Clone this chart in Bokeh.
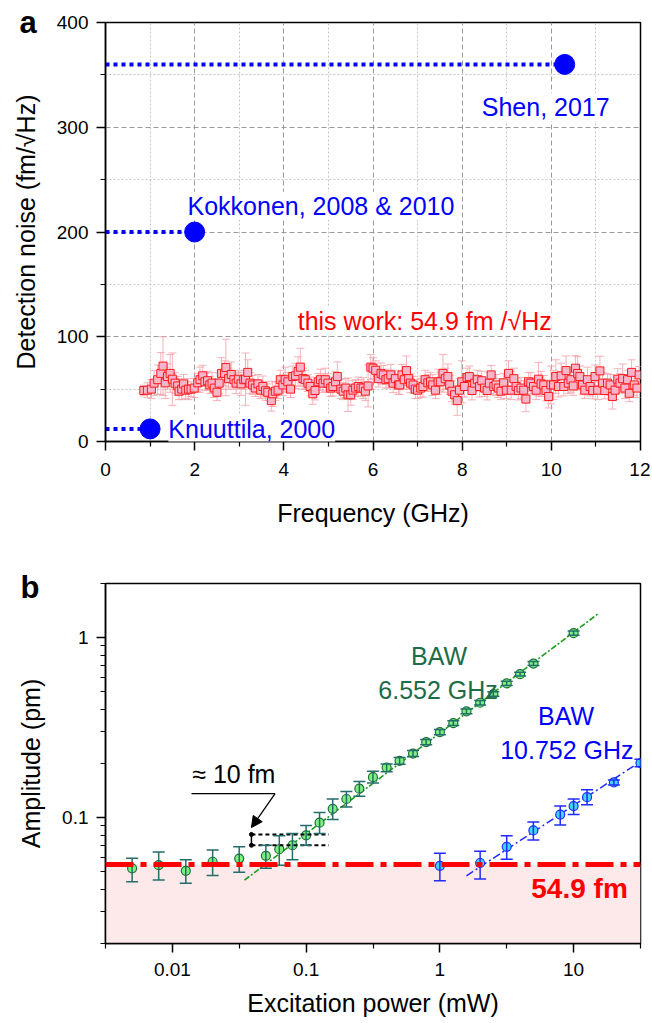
from bokeh.plotting import figure
from bokeh.layouts import column
from bokeh.models import (ColumnDataSource, Whisker, TeeHead, Label, Span, BoxAnnotation,
                          FixedTicker, CustomJSTickFormatter, Arrow, NormalHead)
from bokeh.embed import file_html
from bokeh.resources import INLINE

SANS = "Liberation Sans"

# ---------------- panel a data ----------------
freq_ghz = [
    0.86, 0.94, 1.03, 1.09, 1.17, 1.24, 1.29, 1.34, 1.39, 1.45,
    1.50, 1.56, 1.62, 1.65, 1.71, 1.75, 1.80, 1.86, 1.92, 1.99,
    2.07, 2.12, 2.18, 2.23, 2.29, 2.34, 2.39, 2.44, 2.50, 2.55,
    2.60, 2.67, 2.70, 2.76, 2.82, 2.88, 2.93, 2.98, 3.04, 3.10,
    3.14, 3.19, 3.24, 3.30, 3.36, 3.42, 3.48, 3.53, 3.59, 3.64,
    3.72, 3.75, 3.81, 3.87, 3.92, 3.98, 4.03, 4.09, 4.15, 4.20,
    4.26, 4.32, 4.37, 4.43, 4.48, 4.54, 4.59, 4.65, 4.70, 4.77,
    4.82, 4.88, 4.93, 4.99, 5.05, 5.10, 5.16, 5.20, 5.28, 5.33,
    5.39, 5.44, 5.50, 5.55, 5.61, 5.67, 5.73, 5.78, 5.83, 5.89,
    5.95, 6.00, 6.06, 6.12, 6.18, 6.23, 6.29, 6.34, 6.40, 6.45,
    6.50, 6.57, 6.60, 6.65, 6.70, 6.75, 6.80, 6.84, 6.90, 6.95,
    7.00, 7.07, 7.12, 7.17, 7.23, 7.29, 7.34, 7.40, 7.46, 7.51,
    7.57, 7.62, 7.68, 7.72, 7.77, 7.83, 7.89, 7.94, 7.99, 8.05,
    8.11, 8.16, 8.22, 8.28, 8.34, 8.39, 8.44, 8.50, 8.56, 8.61,
    8.65, 8.71, 8.76, 8.81, 8.87, 8.93, 8.99, 9.04, 9.10, 9.16,
    9.21, 9.26, 9.32, 9.38, 9.43, 9.49, 9.54, 9.60, 9.66, 9.71,
    9.77, 9.83, 9.88, 9.94, 9.99, 10.05, 10.10, 10.16, 10.22, 10.28,
    10.33, 10.38, 10.44, 10.49, 10.54, 10.59, 10.64, 10.70, 10.75, 10.81,
    10.87, 10.93, 10.98, 11.04, 11.09, 11.15, 11.20, 11.26, 11.32, 11.37,
    11.43, 11.49, 11.54, 11.60, 11.65, 11.71, 11.75, 11.80, 11.86, 11.92, 11.97,
]
noise_fm = [
    48.7, 49, 50, 55.7, 59, 65, 72, 56, 62, 65,
    59.5, 55.7, 53, 48, 50, 55, 49, 50, 50, 51,
    56, 59, 62.7, 57, 58, 54, 55.7, 51, 47, 55.7,
    65, 65, 70.6, 60, 64, 59, 55.7, 59.5, 55, 59,
    59.5, 66, 55.7, 54, 51, 55, 49, 52.5, 48.4, 47,
    39, 45.5, 48, 49, 59, 54, 59, 57, 50, 62,
    62.7, 66.8, 71, 60, 59, 55.7, 52.5, 45.5, 48.7, 57,
    59, 55.7, 59, 55.7, 51, 52.5, 57, 62, 50, 48,
    51, 44.6, 44.6, 49, 51, 52.5, 51, 51, 48, 53,
    71, 70, 68, 60, 65, 63.6, 59, 60, 63.6, 55.7,
    60, 54, 54, 63.6, 59, 67.7, 60, 55.7, 54, 50,
    49, 51, 52.5, 59, 56, 57, 54, 49, 57, 57,
    65, 60, 62, 54, 48, 44.6, 39, 49, 57, 52.5,
    61, 62, 48.7, 55.7, 59, 52.5, 58, 51, 48.7, 55.7,
    63.6, 52.5, 54, 51, 48, 56, 49, 65, 49, 60,
    52.5, 48.7, 51, 49, 40.5, 57, 55.7, 52.5, 49, 59.5,
    55, 54, 48.7, 43, 54, 54, 62, 52.5, 62.7, 52.5,
    67.7, 55.7, 59, 53, 70, 65, 62, 54, 49, 59,
    52.5, 48.7, 62, 49, 67.4, 55.7, 48.7, 55.7, 54, 43,
    49, 59.5, 55.7, 60, 51, 59, 46, 66, 54, 51, 63.6,
]
noise_err = [
    5, 7, 9, 12, 14, 20, 28, 15, 12, 18,
    25, 10, 9, 8, 10, 9, 8, 10, 7, 9,
    9, 12, 10, 8, 9, 8, 10, 9, 8, 10,
    15, 12, 27, 10, 12, 9, 10, 8, 11, 9,
    25, 12, 10, 9, 8, 9, 8, 10, 9, 8,
    10, 12, 9, 8, 9, 10, 12, 9, 8, 10,
    12, 14, 18, 10, 9, 8, 9, 10, 9, 8,
    10, 9, 11, 9, 8, 9, 10, 14, 9, 8,
    9, 16, 10, 9, 8, 9, 8, 10, 9, 20,
    12, 10, 9, 8, 10, 9, 8, 9, 10, 9,
    8, 9, 9, 10, 9, 14, 10, 9, 8, 9,
    8, 9, 10, 9, 8, 9, 10, 8, 12, 9,
    18, 10, 12, 9, 10, 9, 14, 11, 20, 10,
    9, 10, 9, 8, 9, 10, 9, 8, 9, 10,
    9, 8, 10, 9, 8, 9, 8, 12, 9, 10,
    8, 9, 10, 9, 12, 9, 10, 8, 9, 16,
    12, 9, 10, 11, 18, 14, 16, 10, 12, 9,
    14, 10, 12, 9, 12, 16, 10, 9, 8, 12,
    9, 8, 11, 9, 14, 10, 8, 9, 10, 12,
    9, 10, 9, 14, 10, 9, 8, 12, 10, 9, 8,
]
ref_names = ["Knuuttila, 2000", "Kokkonen, 2008 & 2010", "Shen, 2017"]
ref_freq = [1.0, 2.0, 10.3]
ref_noise = [12, 200, 360]
this_work_text = "this work: 54.9 fm /\u221aHz"

# ---------------- panel b data ----------------
g_power = [0.005, 0.0079, 0.0126, 0.02, 0.0316, 0.05, 0.063, 0.079, 0.1, 0.126,
           0.158, 0.2, 0.25, 0.316, 0.4, 0.5, 0.63, 0.79, 1.0, 1.26,
           1.58, 2.0, 2.51, 3.16, 3.98, 5.01, 10.0]
g_amp = [0.0523, 0.0545, 0.0507, 0.0569, 0.0593, 0.0614, 0.0668, 0.0703, 0.0798, 0.0938,
         0.112, 0.127, 0.145, 0.168, 0.190, 0.207, 0.227, 0.263, 0.299, 0.335,
         0.390, 0.435, 0.486, 0.557, 0.627, 0.718, 1.06]
g_lo = [0.044, 0.045, 0.0432, 0.0478, 0.0497, 0.0523, 0.0545, 0.0583, 0.0703, 0.0818,
        0.0978, 0.1145, 0.1316, 0.156, 0.180, 0.198, 0.219, 0.254, 0.289, 0.325,
        0.378, 0.423, 0.473, 0.543, 0.612, 0.700, 1.03]
g_hi = [0.0596, 0.0645, 0.0583, 0.0662, 0.0689, 0.0703, 0.0794, 0.0818, 0.0906, 0.107,
        0.127, 0.140, 0.159, 0.181, 0.199, 0.216, 0.236, 0.272, 0.309, 0.346,
        0.402, 0.448, 0.500, 0.572, 0.643, 0.737, 1.09]
b_power = [1.0, 2.0, 3.16, 5.0, 7.94, 10.0, 12.6, 20.0, 31.6]
b_amp = [0.054, 0.056, 0.0689, 0.085, 0.104, 0.116, 0.130, 0.157, 0.201]
b_lo = [0.0447, 0.0456, 0.0588, 0.0752, 0.091, 0.104, 0.118, 0.152, 0.192]
b_hi = [0.0635, 0.0651, 0.0794, 0.0946, 0.116, 0.127, 0.143, 0.162, 0.211]
g_fit_power = [0.0346, 15.3]
g_fit_amp = [0.045, 1.36]
b_fit_power = [1.58, 31.6]
b_fit_amp = [0.0475, 0.205]
noise_floor_pm = 0.0549
box_power = [0.039, 0.148]
box_amp = [0.0703, 0.0807]


def style_axes(p, tick_size="19px"):
    for ax in p.axis:
        ax.axis_line_width = 1.5
        ax.axis_line_color = "black"
        ax.major_tick_line_width = 1.5
        ax.minor_tick_line_width = 1.2
        ax.major_tick_out = 9
        ax.major_tick_in = 0
        ax.minor_tick_out = 5
        ax.minor_tick_in = 0
        ax.major_label_text_font = SANS
        ax.major_label_text_font_size = tick_size
        ax.major_label_text_color = "black"
        ax.major_label_standoff = 8
        ax.axis_label_text_font = SANS
        ax.axis_label_text_font_size = "25px"
        ax.axis_label_text_font_style = "normal"
        ax.axis_label_text_color = "black"
    p.outline_line_color = "black"
    p.outline_line_width = 1.5
    p.outline_line_alpha = 1.0


def panel_letter(p, letter, offset, standoff):
    p.title.text = letter
    p.title.align = "left"
    p.title.offset = offset
    p.title.text_font = SANS
    p.title.text_font_style = "bold"
    p.title.text_font_size = "31px"
    p.title.text_color = "black"
    try:
        p.title.standoff = standoff
    except Exception:
        pass


# ================= panel a =================
p1 = figure(width=650, height=548, x_range=(0, 12), y_range=(0, 400),
            output_backend="svg", toolbar_location=None,
            min_border_left=105, min_border_right=10, min_border_top=22, min_border_bottom=107,
            x_axis_label="Frequency (GHz)", y_axis_label="Detection noise (fm/\u221aHz)")
style_axes(p1)
panel_letter(p1, "a", -86, -34)
p1.xaxis.ticker = FixedTicker(ticks=[0, 2, 4, 6, 8, 10, 12], minor_ticks=[1, 3, 5, 7, 9, 11])
p1.yaxis.ticker = FixedTicker(ticks=[0, 100, 200, 300, 400], minor_ticks=[50, 150, 250, 350])
p1.xaxis.major_label_standoff = 12
p1.xaxis.axis_label_standoff = 20
p1.yaxis.axis_label_standoff = 14
for g in p1.grid:
    g.grid_line_color = "#9a9a9a"
    g.grid_line_dash = "5 3"
    g.grid_line_width = 1
    g.minor_grid_line_color = "#c4c4c4"
    g.minor_grid_line_dash = "2 2"
    g.minor_grid_line_width = 1

src_n = ColumnDataSource(dict(
    x=freq_ghz, y=noise_fm,
    lo=[v - e for v, e in zip(noise_fm, noise_err)],
    hi=[v + e for v, e in zip(noise_fm, noise_err)],
))
pink = "#f5a3ad"
p1.add_layout(Whisker(base="x", lower="lo", upper="hi", source=src_n,
                      line_color=pink, line_width=1, line_alpha=0.85,
                      upper_head=TeeHead(size=8, line_color=pink, line_width=1, line_alpha=0.85),
                      lower_head=TeeHead(size=8, line_color=pink, line_width=1, line_alpha=0.85)))
p1.scatter("x", "y", source=src_n, marker="square", size=8,
           fill_color="#f9b4c9", line_color="#ff1a1a", line_width=1)

src_r = ColumnDataSource(dict(x=ref_freq, y=ref_noise))
p1.segment(x0=0, y0="y", x1="x", y1="y", source=src_r, line_color="#0000ff",
           line_width=4, line_dash="4 4")
p1.scatter("x", "y", source=src_r, size=20, fill_color="#0000ff", line_color="#0000ff")

lab_pos = {
    "Knuuttila, 2000": (1.41, 12.4),
    "Kokkonen, 2008 & 2010": (1.84, 225),
    "Shen, 2017": (8.44, 319),
}
for name in ref_names:
    lx, ly = lab_pos[name]
    p1.add_layout(Label(x=lx, y=ly, text=name, text_font=SANS, text_font_size="25px",
                        text_color="#0000ff", text_baseline="middle", text_align="left",
                        background_fill_color="white"))
p1.add_layout(Label(x=7.16, y=114.6, text=this_work_text, text_font=SANS,
                    text_font_size="25px", text_color="#ff0000", text_baseline="middle",
                    text_align="center", background_fill_color="white"))

# ================= panel b =================
p2 = figure(width=650, height=471, x_axis_type="log", y_axis_type="log",
            x_range=(10 ** -2.5, 10 ** 1.5), y_range=(0.02, 2),
            output_backend="svg", toolbar_location=None,
            min_border_left=104, min_border_right=10, min_border_top=35, min_border_bottom=75,
            x_axis_label="Excitation power (mW)", y_axis_label="Amplitude (pm)")
style_axes(p2)
panel_letter(p2, "b", -85, -43)
p2.grid.visible = False
p2.xaxis.ticker = FixedTicker(ticks=[0.01, 0.1, 1, 10],
                              minor_ticks=[10 ** -2.5, 10 ** -1.5, 10 ** -0.5, 10 ** 0.5, 10 ** 1.5])
p2.yaxis.ticker = FixedTicker(ticks=[0.1, 1],
                              minor_ticks=[0.02, 0.03, 0.04, 0.05, 0.06, 0.07, 0.08, 0.09,
                                           0.2, 0.3, 0.4, 0.5, 0.6, 0.7, 0.8, 0.9, 2])
fmt = CustomJSTickFormatter(code="return String(tick);")
p2.xaxis.formatter = fmt
p2.yaxis.formatter = fmt
p2.xaxis.axis_label_standoff = 10
p2.xaxis.major_label_standoff = 10
p2.yaxis.axis_label_standoff = 14

p2.add_layout(BoxAnnotation(top=noise_floor_pm, fill_color="#fde9e9", fill_alpha=1.0,
                            line_alpha=0, level="underlay"))
p2.add_layout(Span(location=noise_floor_pm, dimension="width", line_color="#ff0000",
                   line_width=5, line_dash="28 7 6 7"))

p2.line(g_fit_power, g_fit_amp, line_color="#1a9e1a", line_width=1.6, line_dash="6 2 2 2")
p2.line(b_fit_power, b_fit_amp, line_color="#1f2bff", line_width=1.5, line_dash="8 3 2 3")

src_g = ColumnDataSource(dict(x=g_power, y=g_amp, lo=g_lo, hi=g_hi))
src_b = ColumnDataSource(dict(x=b_power, y=b_amp, lo=b_lo, hi=b_hi))
gc = "#236d6a"
bc = "#1f2bff"
for src, c in ((src_g, gc), (src_b, bc)):
    p2.add_layout(Whisker(base="x", lower="lo", upper="hi", source=src, line_color=c,
                          line_width=1.5, level="glyph",
                          upper_head=TeeHead(size=12, line_color=c, line_width=1.5),
                          lower_head=TeeHead(size=12, line_color=c, line_width=1.5)))
p2.scatter("x", "y", source=src_g, size=9, fill_color="#7ef07e", line_color="#1b6e3a",
           line_width=1.2)
p2.scatter("x", "y", source=src_b, size=9, fill_color="#3fd6f8", line_color="#1f2bff",
           line_width=1.2)

# ~10 fm box
p2.segment(x0=box_power[0], x1=box_power[1], y0=box_amp, y1=box_amp,
           line_color="black", line_width=2, line_dash="4 3")
p2.segment(x0=box_power[0], x1=box_power[0], y0=box_amp[0], y1=box_amp[1],
           line_color="black", line_width=1.5)
p2.scatter([box_power[0]] * 2, box_amp, size=4, color="black")
p2.line([0.0139, 0.0586], [0.136, 0.136], line_color="black", line_width=1.3)
p2.add_layout(Arrow(x_start=0.0586, y_start=0.136, x_end=0.039, y_end=0.0881,
                    line_color="black", line_width=1.3,
                    end=NormalHead(size=11, fill_color="black", line_color="black")))

green_txt = "#1d6b47"
for txt, (lx, ly), col in (("BAW", (0.985, 0.789), green_txt),
                           ("6.552 GHz", (0.97, 0.513), green_txt),
                           ("BAW", (8.79, 0.368), "#0000ff"),
                           ("10.752 GHz", (8.9, 0.239), "#0000ff"),
                           ("\u2248 10 fm", (0.0288, 0.174), "black")):
    p2.add_layout(Label(x=lx, y=ly, text=txt, text_font=SANS, text_font_size="25px",
                        text_color=col, text_baseline="middle", text_align="center"))
p2.add_layout(Label(x=25.4, y=0.0402, text="54.9 fm", text_font=SANS,
                    text_font_style="bold", text_font_size="28px", text_color="#ff0000",
                    text_baseline="middle", text_align="right"))

layout = column(p1, p2)
open("out.html", "w").write(file_html(layout, INLINE))
